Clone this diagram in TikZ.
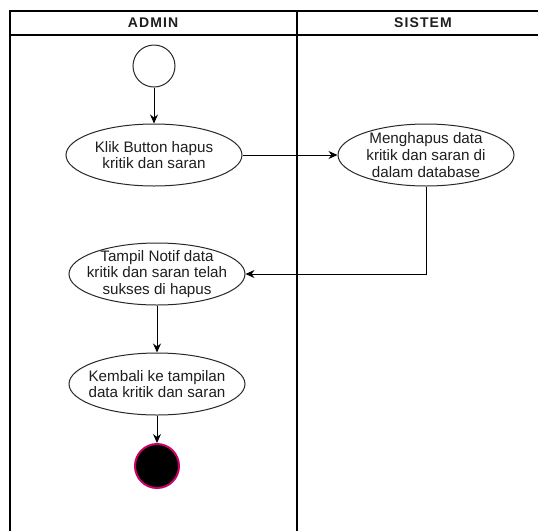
\documentclass[tikz,border=0pt]{standalone}
\usepackage{fontspec}
\setmainfont{Liberation Sans}
\newfontfamily\actfam{Liberation Sans}
\newfontfamily\hdrfam[LetterSpace=8]{Liberation Sans}
\usetikzlibrary{shapes.geometric,arrows.meta}
\definecolor{endrim}{RGB}{204,0,102}
\definecolor{edgegrey}{RGB}{40,40,40}
\definecolor{txtgrey}{RGB}{30,30,30}
\begin{document}
\begin{tikzpicture}[x=1pt,y=-1pt,
  lane/.style={draw=black,line width=1.1pt},
  hdr/.style={font=\hdrfam\fontsize{14}{16}\selectfont\bfseries,text=txtgrey},
  act/.style={ellipse,draw=edgegrey,line width=1pt,minimum width=176pt,minimum height=62pt,
    inner xsep=-40pt,inner ysep=-20pt,align=center,text=txtgrey,font=\actfam\fontsize{15.2}{16.8}\selectfont},
  flow/.style={-{Stealth[length=9pt,width=8pt]},line width=1pt,draw=black},
  startnode/.style={circle,draw=edgegrey,line width=1pt,minimum size=42pt,inner sep=0pt},
  endnode/.style={circle,fill=black,draw=endrim,line width=2pt,minimum size=44pt,inner sep=0pt}]
\useasboundingbox (0,0) rectangle (538,531);
\fill[white] (0,0) rectangle (538,531);
% swimlanes
\draw[lane] (10,531) -- (10,11) -- (545,11);
\draw[lane] (10,35) -- (545,35);
\draw[lane] (297,11) -- (297,531);
\node[hdr] (hadmin) at (153,23) {ADMIN};
\node[hdr] (hsistem) at (423,23) {SISTEM};
% activities
\node[startnode] (start) at (154,66) {};
\node[act] (a1) at (154,155) {Klik Button hapus\\kritik dan saran};
\node[act] (a2) at (426,155) {Menghapus data\\kritik dan saran di\\dalam database};
\node[act] (a3) at (157,274) {Tampil Notif data\\kritik dan saran telah\\sukses di hapus};
\node[act] (a4) at (157,384) {Kembali ke tampilan\\data kritik dan saran};
\node[endnode] (end) at (157,466) {};
% flows
\draw[flow] (start) -- (a1);
\draw[flow] (a1) -- (a2);
\draw[flow] (a2.south) -- (a2.south |- a3.east) -- (a3.east);
\draw[flow] (a3) -- (a4);
\draw[flow] (a4) -- (end);
\end{tikzpicture}
\end{document}
